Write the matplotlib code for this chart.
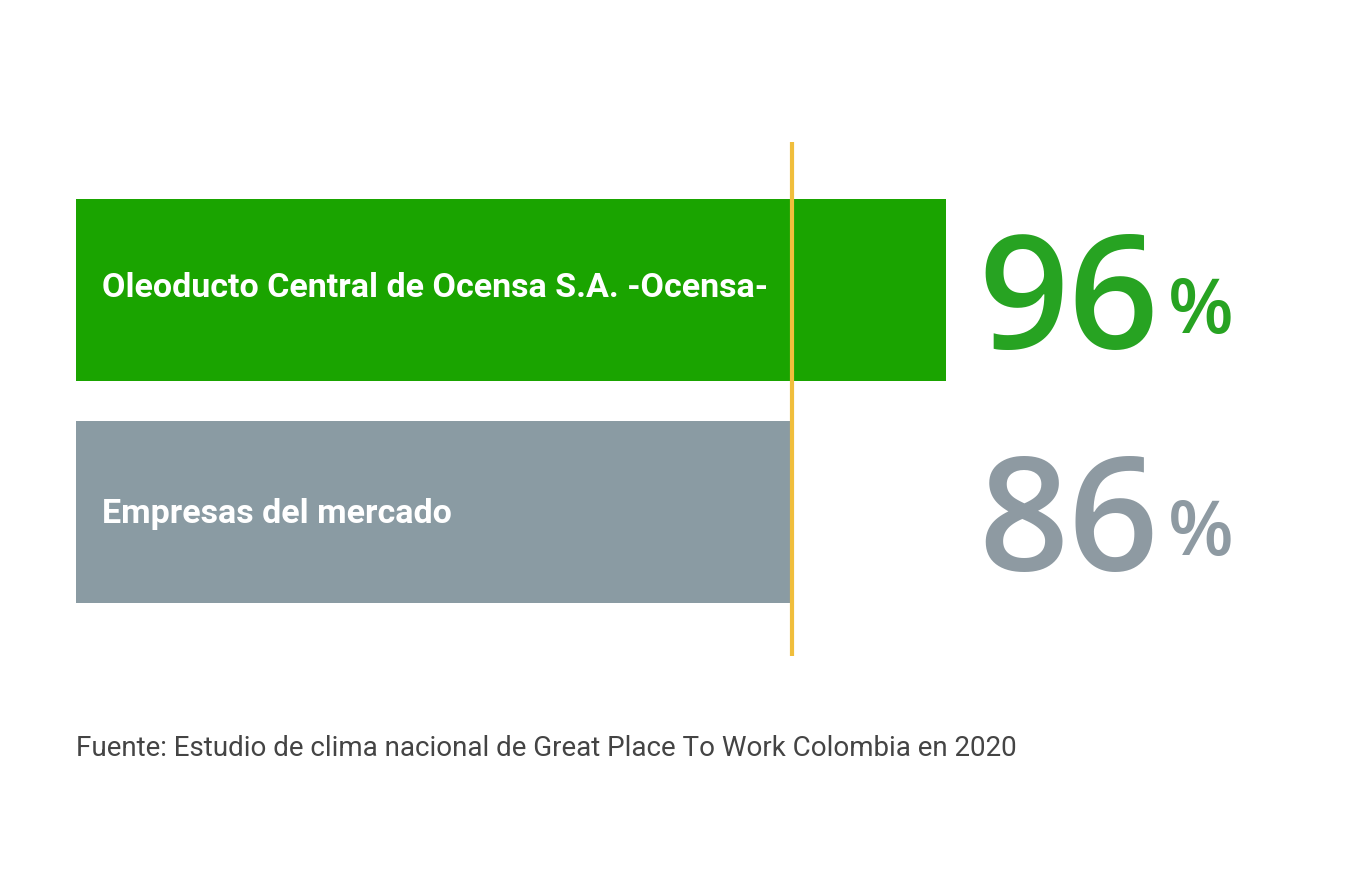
import matplotlib.pyplot as plt

# Chart data
categories = ["Oleoducto Central de Ocensa S.A. -Ocensa-", "Empresas del mercado"]
values = [96, 86]
benchmark = 86
source = "Fuente: Estudio de clima nacional de Great Place To Work Colombia en 2020"

bar_colors = ["#1aa400", "#8a9ba3"]
num_colors = ["#27a322", "#8e9aa2"]
label_shift = [7, 11]  # baseline offset from bar centre, px

fig = plt.figure(figsize=(13.66, 8.8), dpi=100)
ax = fig.add_axes([76 / 1366, 0, 1 - 76 / 1366, 1])
ax.axis("off")

base = 40
ypos = [0, 1]
ax.barh(ypos, [v - base for v in values], left=base, height=0.82, color=bar_colors)
ax.set_xlim(base, base + 1290 / 15.54)
ax.set_ylim(880 / 222 - 290 / 222, -290 / 222)

# benchmark line
ax.vlines(benchmark + 0.1, -0.667, 1.649, color="#f0be3c", linewidth=3)

for y, cat, v, c, sh in zip(ypos, categories, values, num_colors, label_shift):
    ax.text(base + 26 / 15.54, y + sh / 222, cat, color="white", fontsize=24.5,
            fontweight="bold", family="Roboto", va="baseline", ha="left")
    ax.text(base + 902 / 15.54, y + 0.26, str(v), color=c, fontsize=114,
            fontweight="semibold", family="Open Sans", va="baseline", ha="left")
    ax.text(base + 1092 / 15.54, y + 0.195, "%", color=c, fontsize=55,
            fontweight="semibold", family="Open Sans", va="baseline", ha="left")

fig.text(76 / 1366, 1 - 748 / 880, source, color="#444444", fontsize=20,
         family="Roboto", va="center", ha="left")

fig.savefig("out.png", dpi=100, facecolor="white")
